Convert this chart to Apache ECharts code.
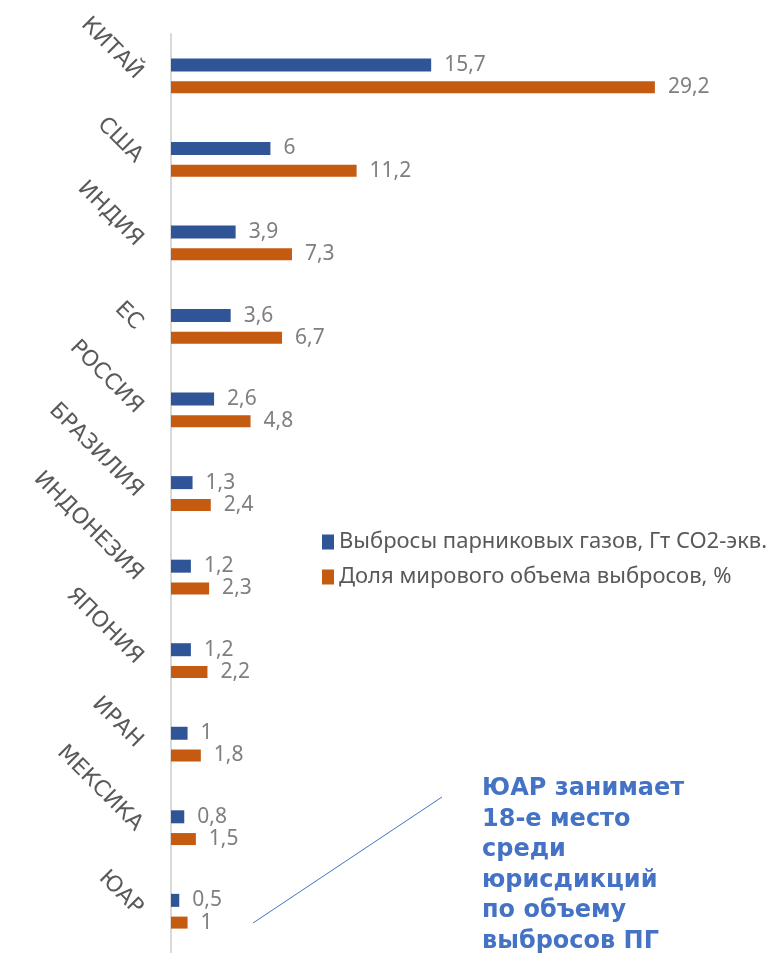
<!DOCTYPE html>
<html><head><meta charset="utf-8">
<script src="https://cdn.jsdelivr.net/npm/echarts@6/dist/echarts.min.js"></script>
<style>html,body{margin:0;padding:0;background:#fff}#c{width:780px;height:953px}</style>
</head><body><div id="c"></div>
<script>
const categories = ['КИТАЙ','США','ИНДИЯ','ЕС','РОССИЯ','БРАЗИЛИЯ','ИНДОНЕЗИЯ','ЯПОНИЯ','ИРАН','МЕКСИКА','ЮАР'];
const emissions = [15.7, 6, 3.9, 3.6, 2.6, 1.3, 1.2, 1.2, 1, 0.8, 0.5];
const shares = [29.2, 11.2, 7.3, 6.7, 4.8, 2.4, 2.3, 2.2, 1.8, 1.5, 1];
const seriesNames = ['Выбросы парниковых газов, Гт CO2-экв.', 'Доля мирового объема выбросов, %'];
const note = 'ЮАР занимает\n18-е место\nсреди\nюрисдикций\nпо объему\nвыбросов ПГ';

const chart = echarts.init(document.getElementById('c'));
const lbl = {
  show: true, position: 'right', distance: 13, color: '#7f7f7f',
  fontSize: 21, fontFamily: 'Noto Sans',
  formatter: p => String(p.value).replace('.', ',')
};
chart.setOption({
  animation: false,
  grid: { left: 171, top: 34, width: 580, height: 924 },
  xAxis: { type: 'value', min: 0, max: 35, show: false, splitLine: { show: false } },
  yAxis: {
    type: 'category', data: categories, inverse: true,
    axisLine: { show: true, lineStyle: { color: '#d9d9d9', width: 2 } },
    axisTick: { show: false },
    axisLabel: { rotate: -45, margin: 32, color: '#595959', fontSize: 22, fontFamily: 'DejaVu Sans' }
  },
  legend: {
    orient: 'vertical', left: 317, top: 526, itemGap: 13,
    icon: 'rect', itemWidth: 12, itemHeight: 15,
    textStyle: { color: '#595959', fontSize: 22, fontFamily: 'Noto Sans' },
    data: seriesNames
  },
  series: [
    { name: seriesNames[0], type: 'bar', data: emissions, barWidth: 13, barGap: '75%',
      itemStyle: { color: '#2f5597' }, label: lbl },
    { name: seriesNames[1], type: 'bar', data: shares, barWidth: 12,
      itemStyle: { color: '#c55a11' }, label: lbl }
  ],
  graphic: [
    { type: 'line', shape: { x1: 253, y1: 923, x2: 442, y2: 797 }, style: { stroke: '#4472c4', lineWidth: 1 } },
    { type: 'text', left: 482, top: 774, style: { text: note, fill: '#4472c4', font: 'bold 24px "DejaVu Sans"', lineHeight: 30.5 } }
  ]
});
</script></body></html>
